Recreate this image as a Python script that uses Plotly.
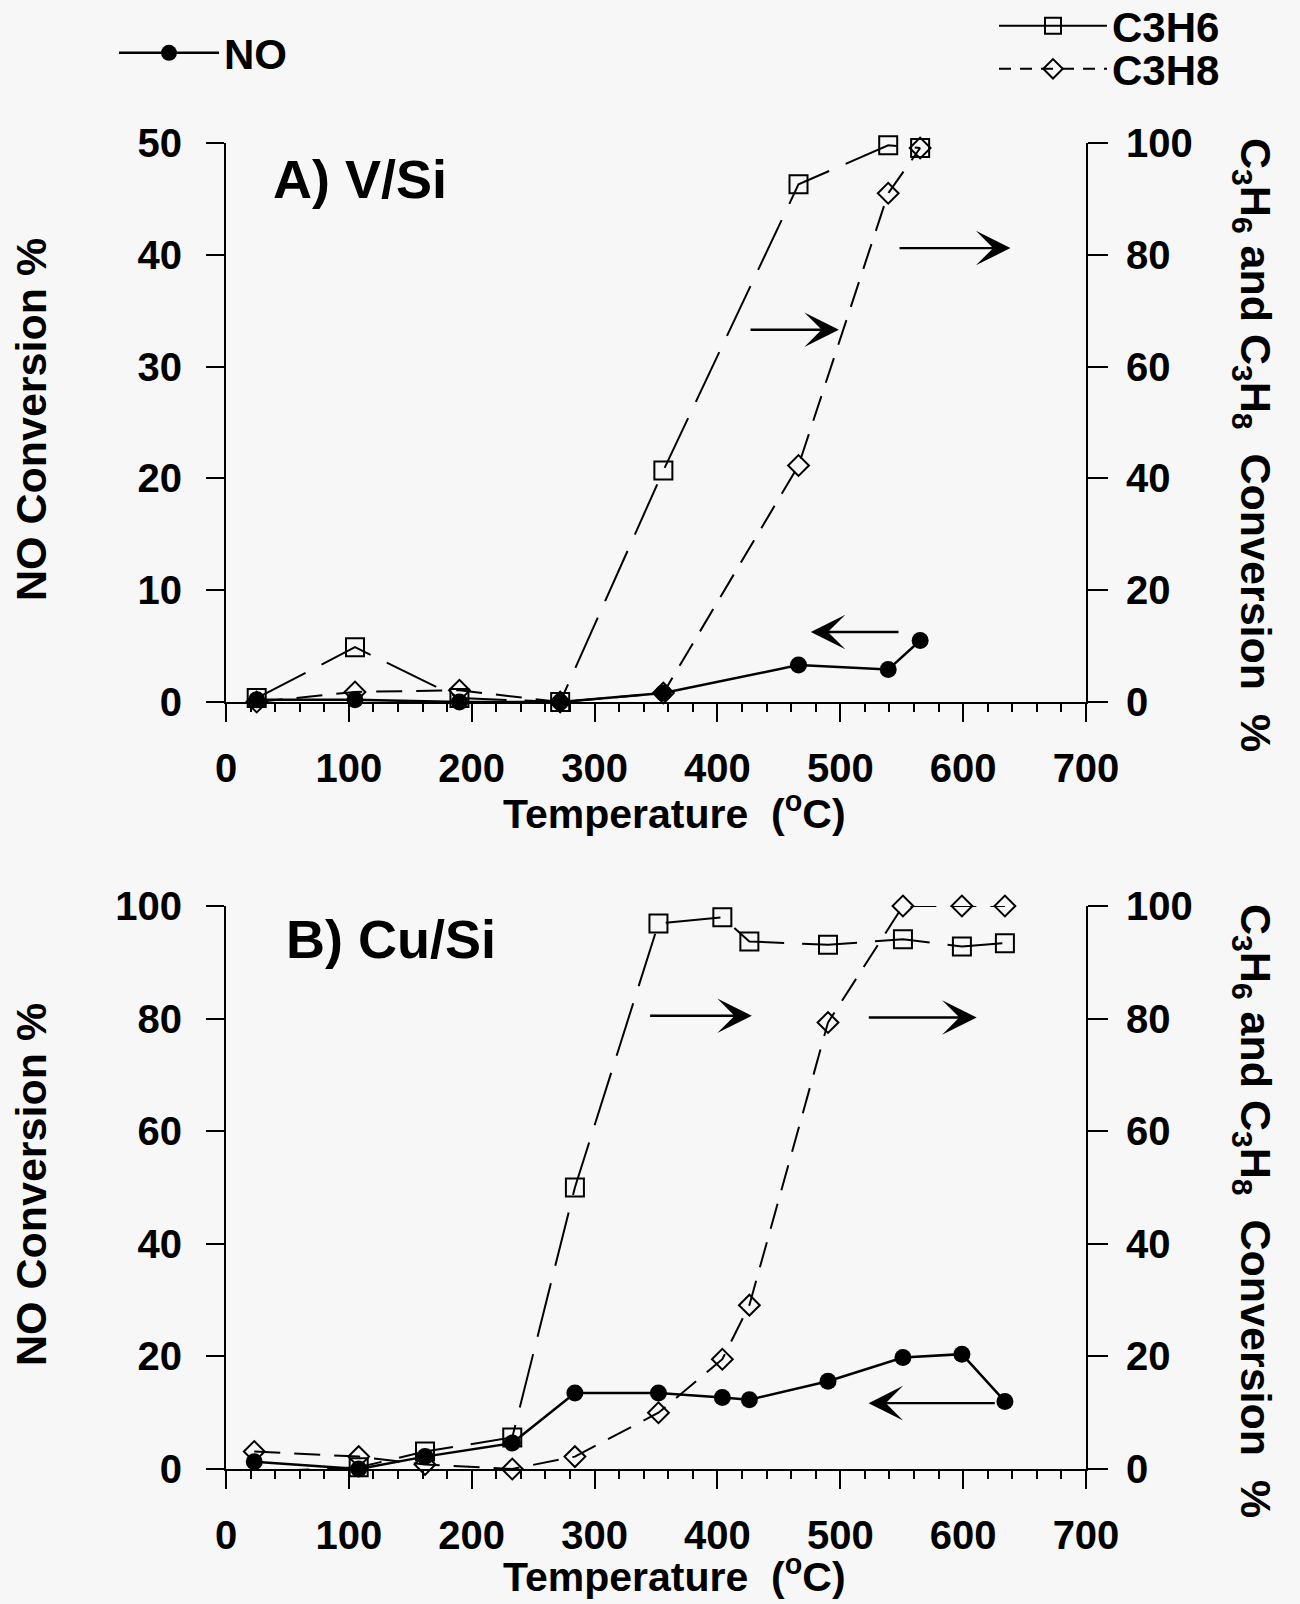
import plotly.graph_objects as go

# ---------------- data ----------------
temp_a = [25, 105, 190, 272, 356, 466, 539, 565]
no_a = [0.2, 0.2, 0.0, 0.0, 0.8, 3.3, 2.9, 5.5]
c3h6_a = [0.7, 9.8, 0.7, 0.0, 41.4, 92.6, 99.6, 99.1]
c3h8_a = [0.0, 1.8, 2.1, 0.0, 1.6, 42.3, 91.0, 99.1]

temp_b = [23, 108, 162, 233, 284, 352, 404, 426, 490, 551, 599, 634]
no_b = [1.3, 0.0, 2.2, 4.6, 13.5, 13.5, 12.7, 12.3, 15.6, 19.8, 20.4, 12.0]
c3h6_b = [-0.5, 0.3, 3.1, 5.6, 50.0, 96.9, 98.0, 93.7, 93.1, 94.1, 92.8, 93.4]
c3h8_b = [3.1, 2.2, 0.8, 0.0, 2.2, 10.0, 19.5, 29.1, 79.3, 100.0, 100.0, 100.0]

x_ticks = [0, 100, 200, 300, 400, 500, 600, 700]

# ---------------- styling ----------------
FONT = "Liberation Sans"
BG = "#f7f7f7"
tickfont = dict(family=FONT, size=40, color="black", weight="bold")
titlefont = dict(family=FONT, size=43, color="black", weight="bold")
legfont = dict(family=FONT, size=42, color="black", weight="bold")

DASH6 = "55px,18px"
DASH8 = "26px,14px"

fig = go.Figure()


def add_panel(xa, ya_left, ya_right, t, no, c6, c8):
    fig.add_trace(go.Scatter(
        x=t, y=c6, xaxis=xa, yaxis=ya_right, mode="lines+markers",
        line=dict(color="black", width=2, dash=DASH6),
        marker=dict(symbol="square-open", size=18, color="black", line=dict(width=2)),
        cliponaxis=False, showlegend=False, name="C3H6"))
    fig.add_trace(go.Scatter(
        x=t, y=c8, xaxis=xa, yaxis=ya_right, mode="lines+markers",
        line=dict(color="black", width=2, dash=DASH8),
        marker=dict(symbol="diamond-open", size=16, color="black", line=dict(width=2)),
        cliponaxis=False, showlegend=False, name="C3H8"))
    fig.add_trace(go.Scatter(
        x=t, y=no, xaxis=xa, yaxis=ya_left, mode="lines+markers",
        line=dict(color="black", width=2.5),
        marker=dict(symbol="circle", size=17, color="black"),
        cliponaxis=False, showlegend=False, name="NO"))


add_panel("x", "y", "y2", temp_a, no_a, c3h6_a, c3h8_a)
add_panel("x2", "y3", "y4", temp_b, no_b, c3h6_b, c3h8_b)

# legend-only entries
fig.add_trace(go.Scatter(x=[None], y=[None], mode="lines+markers", name="<b>NO</b>",
                         line=dict(color="black", width=2.5),
                         marker=dict(symbol="circle", size=17, color="black"),
                         legend="legend"))
fig.add_trace(go.Scatter(x=[None], y=[None], mode="lines+markers", name="<b>C3H6</b>",
                         line=dict(color="black", width=2),
                         marker=dict(symbol="square-open", size=16, color="black", line=dict(width=2)),
                         legend="legend2"))
fig.add_trace(go.Scatter(x=[None], y=[None], mode="lines+markers", name="<b>C3H8</b>",
                         line=dict(color="black", width=2, dash="12px,9px"),
                         marker=dict(symbol="diamond-open", size=15, color="black", line=dict(width=2)),
                         legend="legend3"))

H = 1604.0
L, R = 226, 1086
PW = R - L


def ydom(top_px, bot_px):
    return [1 - bot_px / H, 1 - top_px / H]


def px_x(p):
    return (p - L) / PW


xcommon = dict(range=[0, 700], tickvals=x_ticks, ticks="outside", ticklen=18, tickwidth=2,
               tickcolor="black", showline=True, linewidth=2, linecolor="black",
               showgrid=False, zeroline=False, tickfont=tickfont, ticklabelstandoff=12,
               automargin=False,
               minor=dict(dtick=20, ticks="outside", ticklen=8, tickwidth=2, tickcolor="black"))
ycommon = dict(ticks="outside", ticklen=18, tickwidth=2, tickcolor="black", showline=True,
               linewidth=2, linecolor="black", showgrid=False, zeroline=False,
               tickfont=tickfont, ticklabelstandoff=16, automargin=False)

legcommon = dict(xanchor="left", yanchor="middle", bgcolor="rgba(0,0,0,0)", font=legfont,
                 tracegroupgap=0)

fig.update_layout(
    width=1300, height=1604,
    margin=dict(l=L, r=1300 - R, t=0, b=0, autoexpand=False),
    paper_bgcolor=BG, plot_bgcolor=BG,
    font=dict(family=FONT, color="black"),
    xaxis=dict(domain=[0, 1], anchor="y", **xcommon),
    yaxis=dict(domain=ydom(143, 702), range=[0, 50], dtick=10, anchor="x", **ycommon),
    yaxis2=dict(range=[0, 100], dtick=20, overlaying="y", side="right", anchor="x",
                **{**ycommon, "ticklen": 20, "ticklabelstandoff": 10}),
    xaxis2=dict(domain=[0, 1], anchor="y3", **xcommon),
    yaxis3=dict(domain=ydom(906, 1469), range=[0, 100], dtick=20, anchor="x2", **ycommon),
    yaxis4=dict(range=[0, 100], dtick=20, overlaying="y3", side="right", anchor="x2",
                **{**ycommon, "ticklen": 20, "ticklabelstandoff": 10}),
    legend=dict(x=px_x(114), y=1 - 53 / H, itemwidth=100, **legcommon),
    legend2=dict(x=px_x(994), y=1 - 26 / H, itemwidth=108, **legcommon),
    legend3=dict(x=px_x(994), y=1 - 69 / H, itemwidth=108, **legcommon),
)

ann = []
# axis titles
for yc in (420, 1185):
    ann.append(dict(text="NO Conversion %", xref="paper", yref="paper",
                    x=px_x(31), y=1 - yc / H, textangle=-90, showarrow=False,
                    font=titlefont, xanchor="center", yanchor="middle"))
for yc in (445, 1211):
    ann.append(dict(text="C<sub>3</sub>H<sub>6</sub>&nbsp;and C<sub>3</sub>H<sub>8</sub>&nbsp; Conversion&nbsp; %",
                    xref="paper", yref="paper", x=px_x(1253), y=1 - yc / H,
                    textangle=90, showarrow=False, font=titlefont,
                    xanchor="center", yanchor="middle"))
for yc in (811, 1574):
    ann.append(dict(text="Temperature&nbsp; (<sup>o</sup>C)", xref="paper", yref="paper",
                    x=px_x(674), y=1 - yc / H, showarrow=False,
                    font=dict(family=FONT, size=41, color="black", weight="bold"),
                    xanchor="center", yanchor="middle"))
# panel labels
ann.append(dict(text="A)&nbsp;V/Si", xref="x", yref="y", x=36.6, y=46.8, showarrow=False,
                xanchor="left", yanchor="middle",
                font=dict(family=FONT, size=54, color="black", weight="bold")))
ann.append(dict(text="B)&nbsp;Cu/Si", xref="x2", yref="y3", x=47, y=94.1, showarrow=False,
                xanchor="left", yanchor="middle",
                font=dict(family=FONT, size=54, color="black", weight="bold")))
# arrows (tail -> head)
arrows = [("x", "y", 425.7, 498.9, 33.3), ("x", "y", 547, 638.5, 40.6),
          ("x", "y", 548.6, 476, 6.26),
          ("x2", "y3", 344, 428, 80.5), ("x2", "y3", 522, 611, 80.2),
          ("x2", "y3", 627, 523, 11.7)]
for xr, yr, x0, x1, yv in arrows:
    ann.append(dict(xref=xr, yref=yr, axref=xr, ayref=yr, x=x1, y=yv, ax=x0, ay=yv,
                    text="", showarrow=True, arrowhead=3, arrowsize=2.4, arrowwidth=2.4,
                    arrowcolor="black"))
fig.update_layout(annotations=ann)

fig.write_html("out.html", config={"displayModeBar": False},
               post_script="document.body.style.margin='0';")
